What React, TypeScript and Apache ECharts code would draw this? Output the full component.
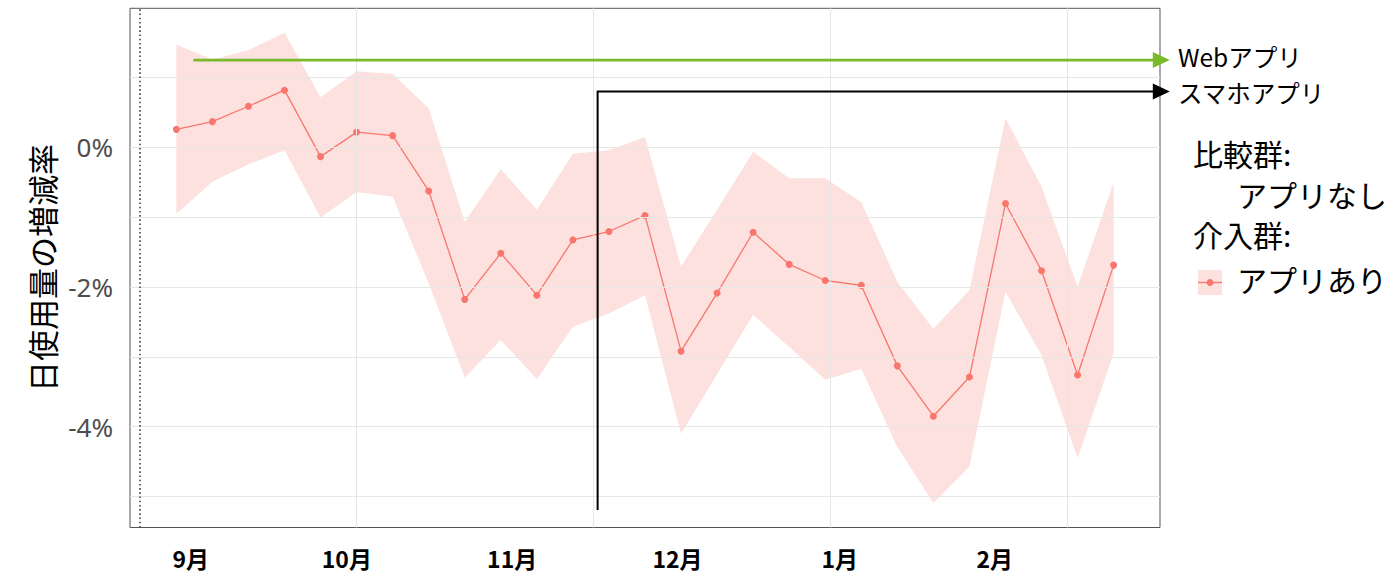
import React, { useEffect, useRef } from "react";
import * as echarts from "echarts";

// Week start, in days from 1 Oct
const weekDays = [-35, -28, -21, -14, -7, 0, 7, 14, 21, 28, 35, 42, 49, 56, 63, 70, 77, 84, 91, 98, 105, 112, 119, 126, 133, 140, 147];
// Change in daily usage (%) – intervention group (app users)
const meanChange = [0.25, 0.36, 0.58, 0.81, -0.14, 0.21, 0.16, -0.63, -2.18, -1.52, -2.12, -1.33, -1.21, -0.98, -2.92, -2.09, -1.22, -1.68, -1.91, -1.98, -3.13, -3.85, -3.29, -0.81, -1.77, -3.26, -1.69];
const upperCI = [1.46, 1.25, 1.38, 1.63, 0.71, 1.08, 1.04, 0.55, -1.07, -0.32, -0.9, -0.1, -0.05, 0.14, -1.71, -0.9, -0.07, -0.45, -0.45, -0.79, -1.93, -2.6, -2.05, 0.41, -0.57, -2.0, -0.51];
const lowerCI = [-0.96, -0.5, -0.25, -0.05, -1.01, -0.65, -0.71, -1.95, -3.3, -2.76, -3.32, -2.57, -2.38, -2.12, -4.1, -3.25, -2.4, -2.86, -3.33, -3.17, -4.29, -5.09, -4.57, -2.07, -2.98, -4.45, -2.95];

// Axis ticks / labels
const yTickValues = [-4, -2, 0];
const yGridValues = [-5, -4, -3, -2, -1, 0, 1];
const xMajorTicks = [0, 92];
const xGridValues = [0, 46, 92, 138];
const monthLabels = ["9月", "10月", "11月", "12月", "1月", "2月"];
const monthLabelDays = [-32.2, -1.9, 30.2, 62.3, 93.8, 123.9];
const baselineDay = -42.06;

// Annotation arrows (day, %)
const webArrow = [[-31.7, 1.24], [157.9, 1.24]];
const phoneArrow = [[46.8, -5.19], [46.8, 0.79], [157.9, 0.79]];
const arrowColors = ["#7ab929", "#000000"];
const arrowWidths = [2.6, 2];

const JP = '"Noto Sans CJK JP", "Noto Sans", sans-serif';
const BAND = "rgba(248,118,109,0.22)";

export default function App() {
  const ref = useRef<HTMLDivElement>(null);
  useEffect(() => {
    document.body.style.margin = "0";
    const chart = echarts.init(ref.current!, undefined, { renderer: "svg" });
    const arrows = [webArrow, phoneArrow];
    const bandData = weekDays.map((d, i) => [d, lowerCI[i], upperCI[i]]);
    const option: any = {
      animation: false,
      backgroundColor: "#ffffff",
      grid: {
        left: 130,
        top: 8.3,
        right: 230,
        bottom: 46.5,
        show: true,
        borderColor: "#555555",
        borderWidth: 1,
        backgroundColor: "transparent",
      },
      xAxis: [
        {
          type: "value",
          min: -44,
          max: 156,
          position: "bottom",
          axisLine: { show: false },
          splitLine: { show: false },
          axisTick: { show: true, customValues: xMajorTicks, length: 5, lineStyle: { color: "#333" } },
          axisLabel: { show: false },
        },
        {
          type: "value",
          min: -44,
          max: 156,
          position: "bottom",
          axisLine: { show: false },
          splitLine: { show: false },
          axisTick: { show: false },
          axisLabel: {
            show: true,
            customValues: monthLabelDays,
            margin: 19,
            color: "#000",
            fontSize: 23,
            fontWeight: "bold",
            fontFamily: JP,
            formatter: (v: number) => {
              const i = monthLabelDays.findIndex((d) => Math.abs(d - v) < 1e-6);
              return i >= 0 ? monthLabels[i] : "";
            },
          },
        },
      ],
      yAxis: {
        type: "value",
        min: -5.44,
        max: 1.98,
        axisLine: { show: false },
        splitLine: { show: false },
        axisTick: { show: true, customValues: yTickValues, length: 7, lineStyle: { color: "#333" } },
        axisLabel: {
          customValues: yTickValues,
          margin: 17,
          color: "#4d4d4d",
          fontSize: 26,
          fontFamily: '"Noto Sans", sans-serif',
          formatter: (v: number) => `${v}%`,
        },
        name: "日使用量の増減率",
        nameLocation: "middle",
        nameGap: 72,
        nameTextStyle: { color: "#000", fontSize: 31, fontFamily: JP },
      },
      series: [
        {
          type: "line",
          name: "grid",
          data: [],
          silent: true,
          z: 0,
          markLine: {
            silent: true,
            symbol: "none",
            animation: false,
            label: { show: false },
            lineStyle: { color: "#e6e6e6", width: 1, type: "solid" },
            data: [
              ...yGridValues.map((v) => ({ yAxis: v })),
              ...xGridValues.map((v) => ({ xAxis: v })),
              { xAxis: baselineDay, lineStyle: { color: "#444", width: 1.6, type: [1.6, 2.6] } },
            ],
          },
        },
        {
          type: "custom",
          name: "band",
          coordinateSystem: "cartesian2d",
          silent: true,
          z: 1,
          data: bandData,
          encode: { x: 0, y: [1, 2] },
          renderItem: (params: any, api: any) => {
            if (params.dataIndex !== 0) return null;
            const up = bandData.map((r) => api.coord([r[0], r[2]]));
            const lo = bandData.map((r) => api.coord([r[0], r[1]])).reverse();
            return {
              type: "polygon",
              shape: { points: up.concat(lo) },
              style: { fill: BAND },
            };
          },
        },
        {
          type: "line",
          name: "アプリあり",
          data: weekDays.map((d, i) => [d, meanChange[i]]),
          symbol: "circle",
          symbolSize: 7,
          itemStyle: { color: "#F8766D" },
          lineStyle: { color: "#F8766D", width: 1.3 },
          z: 3,
        },
        {
          type: "custom",
          name: "arrows",
          coordinateSystem: "cartesian2d",
          clip: false,
          silent: true,
          z: 5,
          data: [[0, 0], [1, 0]],
          renderItem: (params: any, api: any) => {
            const idx = params.dataIndex;
            const pts = arrows[idx].map((p) => api.coord(p));
            const tip = pts[pts.length - 1];
            const head = 17;
            const half = 8;
            const linePts = pts.slice(0, -1).concat([[tip[0] - head + 2, tip[1]]]);
            return {
              type: "group",
              children: [
                {
                  type: "polyline",
                  shape: { points: linePts },
                  style: { stroke: arrowColors[idx], lineWidth: arrowWidths[idx], fill: null },
                },
                {
                  type: "polygon",
                  shape: { points: [[tip[0], tip[1]], [tip[0] - head, tip[1] - half], [tip[0] - head, tip[1] + half]] },
                  style: { fill: arrowColors[idx] },
                },
              ],
            };
          },
        },
      ],
      graphic: [
        { type: "text", left: 1178, top: 44, style: { text: "Webアプリ", fontSize: 24.5, fontFamily: JP, fill: "#000" } },
        { type: "text", left: 1178, top: 80, style: { text: "スマホアプリ", fontSize: 24.5, fontFamily: JP, fill: "#000" } },
        { type: "text", left: 1193, top: 138, style: { text: "比較群:", fontSize: 30, fontFamily: JP, fill: "#000" } },
        { type: "text", left: 1237, top: 179, style: { text: "アプリなし", fontSize: 30, fontFamily: JP, fill: "#000" } },
        { type: "text", left: 1193, top: 219, style: { text: "介入群:", fontSize: 30, fontFamily: JP, fill: "#000" } },
        { type: "rect", left: 1198, top: 270, shape: { width: 24, height: 25 }, style: { fill: BAND } },
        { type: "line", shape: { x1: 1198, y1: 282.5, x2: 1222, y2: 282.5 }, style: { stroke: "#F8766D", lineWidth: 1.3 } },
        { type: "circle", shape: { cx: 1210, cy: 282.5, r: 3.5 }, style: { fill: "#F8766D" } },
        { type: "text", left: 1237, top: 264, style: { text: "アプリあり", fontSize: 30, fontFamily: JP, fill: "#000" } },
      ],
    };
    chart.setOption(option);
    return () => chart.dispose();
  }, []);
  return <div ref={ref} style={{ position: "absolute", left: 0, top: 0, width: 1390, height: 574 }} />;
}
